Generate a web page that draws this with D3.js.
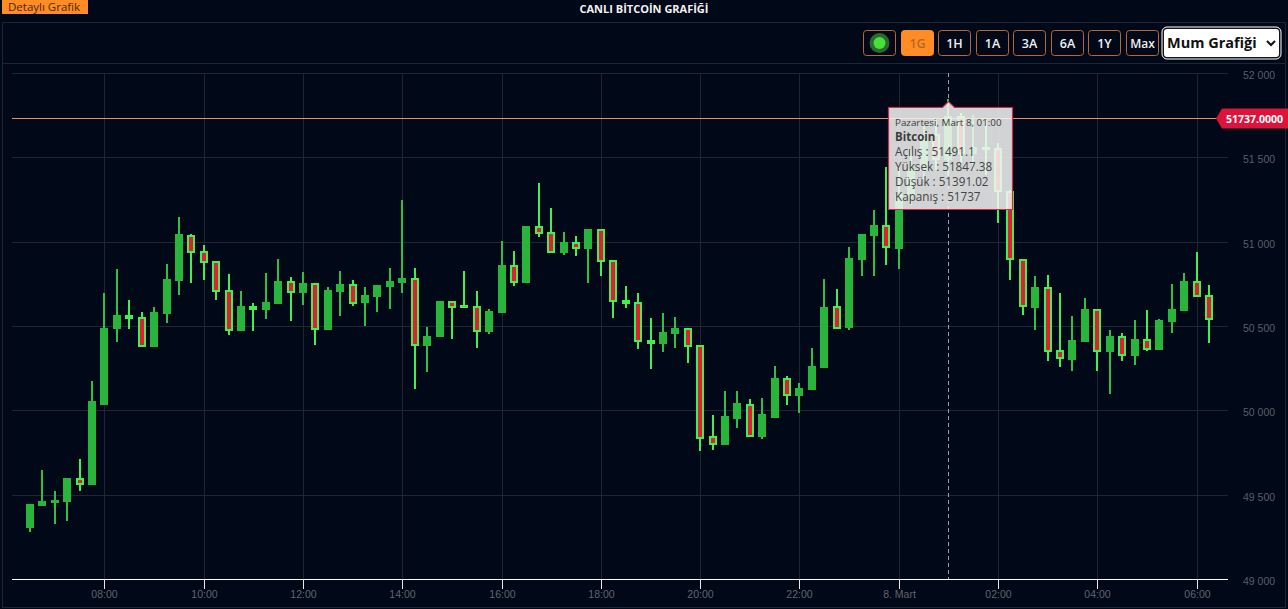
<!DOCTYPE html>
<html>
<head>
<meta charset="utf-8">
<script src="https://cdnjs.cloudflare.com/ajax/libs/d3/7.8.5/d3.min.js"></script>
<style>
  html, body { margin: 0; padding: 0; background: #010817; overflow: hidden; }
  svg { display: block; font-family: "Open Sans", "Noto Sans", sans-serif; }
</style>
</head>
<body>
<svg id="chart" width="1288" height="609"></svg>
<script>
// 15 minute candles, first one at 06:30
const opens = [49311,49441,49459,49465,49595,49566,50040,50490,50562,50550,50384,50579,50775,51036,50941,50882,50710,50479,50615,50603,50639,50763,50704,50751,50485,50710,50745,50645,50680,50740,50763,50781,50390,50443,50645,50621,50615,50473,50585,50858,50763,51089,51054,50941,50994,50965,51071,50888,50651,50639,50413,50402,50461,50485,50384,49844,49803,49957,50034,49850,49963,50188,50088,50129,50259,50615,50496,50900,51042,51095,50965,51279,51427,51635,51491.1,51737,51528,51558,51552,51297,50894,50615,50728,50354,50307,50413,50597,50354,50437,50330,50419,50366,50532,50597,50763,50680];
const highs = [49447,49649,49524,49595,49714,50176,50698,50840,50656,50585,50615,50870,51149,51048,50983,50888,50811,50710,50639,50817,50900,50793,50822,50757,50734,50828,50775,50734,50745,50846,51249,50846,50496,50651,50651,50828,50710,50603,51006,50947,51095,51350,51202,51060,51036,51077,51077,50894,50740,50698,50550,50579,50556,50490,50390,49975,50117,50117,50069,50075,50265,50206,50164,50372,50781,50722,50971,51048,51190,51445,51439,51546,51694,51724,51847.38,51760,51753,51724,51587,51309,50900,50799,50805,50698,50562,50668,50603,50479,50461,50538,50597,50544,50751,50817,50941,50745];
const lows = [49281,49435,49328,49346,49524,49566,50040,50408,50485,50378,50378,50520,50686,50757,50775,50656,50449,50473,50473,50544,50633,50532,50627,50390,50479,50562,50621,50502,50585,50603,50698,50129,50230,50437,50425,50609,50372,50455,50579,50740,50757,51030,50935,50923,50917,50757,50799,50550,50609,50366,50247,50348,50372,50283,49761,49767,49797,49898,49844,49832,49957,50034,49987,50123,50253,50485,50479,50799,50799,50864,50840,51220,51368,51427,51391.02,51457,51427,51398,51113,50775,50568,50479,50295,50259,50236,50408,50236,50099,50295,50271,50354,50360,50461,50591,50674,50402];
const closes = [49441,49459,49465,49595,49566,50052,50485,50562,50550,50384,50579,50775,51042,50941,50882,50710,50479,50615,50603,50639,50763,50704,50751,50485,50710,50745,50639,50680,50740,50763,50781,50390,50437,50645,50615,50615,50473,50585,50858,50763,51089,51054,50941,50994,50965,51071,50888,50651,50639,50413,50402,50461,50485,50384,49838,49803,49963,50040,49850,49975,50188,50093,50129,50259,50609,50490,50900,51042,51095,50971,51279,51427,51635,51491,51737,51528,51558,51552,51303,50900,50621,50728,50354,50313,50413,50597,50354,50437,50330,50419,50366,50532,50597,50763,50680,50544];

const priceTicks = [49000,49500,50000,50500,51000,51500,52000];
const priceTickLabels = ["49 000","49 500","50 000","50 500","51 000","51 500","52 000"];
const timeTicks = ["2021-03-07T08:00","2021-03-07T10:00","2021-03-07T12:00","2021-03-07T14:00","2021-03-07T16:00","2021-03-07T18:00","2021-03-07T20:00","2021-03-07T22:00","2021-03-08T00:00","2021-03-08T02:00","2021-03-08T04:00","2021-03-08T06:00"].map(d => new Date(d));
const timeTickLabels = ["08:00","10:00","12:00","14:00","16:00","18:00","20:00","22:00","8. Mart","02:00","04:00","06:00"];
const rangeButtons = ["1G","1H","1A","3A","6A","1Y","Max"];
const tooltipLines = ["Açılış : 51491.1","Yüksek : 51847.38","Düşük : 51391.02","Kapanış : 51737"];
const hoverTime = new Date("2021-03-08T01:00");
const lastPrice = 51737;

const times = d3.timeMinute.every(15).range(new Date("2021-03-07T06:30"), new Date("2021-03-08T06:30"));
const candles = opens.map((o, i) => ({t: times[i], o, h: highs[i], l: lows[i], c: closes[i]}));

const svg = d3.select("#chart");
const plotLeft = 12, plotRight = 1228, plotTop = 73, plotBottom = 579;

const x = d3.scaleTime().domain([times[0], times[times.length - 1]]).rangeRound([30, 1209]);
const y = d3.scaleLinear().domain([49000, 52000]).rangeRound([plotBottom, plotTop]);

// panel frame
svg.append("rect").attr("x", 2.5).attr("y", 22.5).attr("width", 1283).attr("height", 585)
  .attr("fill", "none").attr("stroke", "#1d2634");
svg.append("line").attr("x1", 2).attr("x2", 1286).attr("y1", 63.5).attr("y2", 63.5).attr("stroke", "#1d2634");

// header
svg.append("rect").attr("x", 2).attr("y", 0).attr("width", 86).attr("height", 14).attr("fill", "#ff8c24");
svg.append("text").attr("x", 8).attr("y", 10.5).attr("font-size", 11.5).attr("fill", "#4a2a10").text("Detaylı Grafik");
svg.append("text").attr("x", 644).attr("y", 12.5).attr("text-anchor", "middle").attr("font-size", 11)
  .attr("font-weight", 700).attr("fill", "#f2f2f2").text("CANLI BİTCOİN GRAFİĞİ");

// toolbar
const btnX = [901, 938, 976, 1013, 1051, 1088, 1126];
const tool = svg.append("g");
tool.append("rect").attr("x", 863.5).attr("y", 30.5).attr("width", 32).attr("height", 25).attr("rx", 3)
  .attr("fill", "none").attr("stroke", "#b5693a");
tool.append("circle").attr("cx", 879.5).attr("cy", 43).attr("r", 10).attr("fill", "#2b6a2b");
tool.append("circle").attr("cx", 879.5).attr("cy", 43).attr("r", 6).attr("fill", "#45e038");
rangeButtons.forEach((b, i) => {
  const on = i === 0;
  tool.append("rect").attr("x", btnX[i] + .5).attr("y", 30.5).attr("width", 32).attr("height", 25).attr("rx", 3)
    .attr("fill", on ? "#ff8c24" : "none").attr("stroke", on ? "#ff8c24" : "#b5693a");
  tool.append("text").attr("x", btnX[i] + 16.5).attr("y", 48).attr("text-anchor", "middle")
    .attr("font-size", b === "Max" ? 12 : 12.5)
    .attr("font-weight", 600).attr("fill", on ? "#b06a20" : "#eef0f2").text(b);
});
tool.append("rect").attr("x", 1163).attr("y", 28).attr("width", 117).attr("height", 30).attr("rx", 4)
  .attr("fill", "#fff").attr("stroke", "#10151d").attr("stroke-width", 2);
tool.append("rect").attr("x", 1162).attr("y", 27).attr("width", 119).attr("height", 32).attr("rx", 5)
  .attr("fill", "none").attr("stroke", "#fff");
tool.append("text").attr("x", 1167).attr("y", 48).attr("font-size", 14.5).attr("font-weight", 700).attr("fill", "#111").text("Mum Grafiği");
tool.append("path").attr("d", "M1267 41l4 4 4-4").attr("fill", "none").attr("stroke", "#111").attr("stroke-width", 2);

// grid
const yAxis = d3.axisRight(y).tickValues(priceTicks)
  .tickFormat((d, i) => priceTickLabels[i]).tickSize(-(plotRight - plotLeft)).tickPadding(15);
svg.append("g").attr("transform", `translate(${plotRight},0)`).call(yAxis)
  .call(g => g.select(".domain").remove())
  .call(g => g.selectAll("line").attr("stroke", "#20262f"))
  .call(g => g.selectAll("text").attr("fill", "#585f68").attr("font-size", 10.5).attr("dy", "0.55em").attr("font-family", "inherit"));

const xGrid = d3.axisBottom(x).tickValues(timeTicks).tickFormat("").tickSize(-(plotBottom - plotTop));
svg.append("g").attr("transform", `translate(0,${plotBottom})`).call(xGrid)
  .call(g => g.select(".domain").remove())
  .call(g => g.selectAll("line").attr("stroke", "#20262f"));

const xAxis = d3.axisBottom(x).tickValues(timeTicks).tickFormat((d, i) => timeTickLabels[i]).tickSize(10).tickPadding(2);

// candles
const cg = svg.append("g").selectAll("g").data(candles).join("g")
  .attr("transform", d => `translate(${x(d.t)},0)`);
const isUp = d => d.c >= d.o;
cg.append("line").attr("y1", d => y(d.h)).attr("y2", d => y(d.l))
  .attr("stroke", d => isUp(d) ? "#33bf47" : "#42ee52").attr("stroke-width", 2);
cg.append("rect").attr("x", -3).attr("width", 6)
  .attr("y", d => y(Math.max(d.o, d.c)))
  .attr("height", d => Math.max(y(Math.min(d.o, d.c)) - y(Math.max(d.o, d.c)), 1))
  .attr("fill", d => isUp(d) ? "#29b53c" : "#dd2034")
  .attr("stroke", d => isUp(d) ? "#29b53c" : "#42ee52").attr("stroke-width", 2);

// bottom axis above candles
svg.append("g").attr("transform", `translate(0,${plotBottom})`).call(xAxis)
  .call(g => g.select(".domain").attr("stroke", "#fff").attr("d", `M${plotLeft},0.5H${plotRight}`))
  .call(g => g.selectAll("line").attr("stroke", "#e8e8e8"))
  .call(g => g.selectAll("text").attr("fill", "#5f666f").attr("font-size", 10.5).attr("font-family", "inherit"));

// last price marker
const py = y(lastPrice) + 1.5;
svg.append("line").attr("x1", plotLeft).attr("x2", 1217).attr("y1", py).attr("y2", py).attr("stroke", "#ea8f62");
svg.append("path").attr("fill", "#dc143c")
  .attr("d", `M1216 ${py}L1222 ${py - 10}H1288V${py + 10}H1222Z`);
svg.append("text").attr("x", 1226).attr("y", py + 4).attr("font-size", 10.5).attr("font-weight", 700)
  .attr("fill", "#fff").text(lastPrice.toFixed(4));

// crosshair + tooltip
const hx = x(hoverTime) + .5;
svg.append("line").attr("x1", hx).attr("x2", hx).attr("y1", plotTop).attr("y2", plotBottom)
  .attr("stroke", "#9aa0a8").attr("stroke-dasharray", "4 3");
const tip = svg.append("g");
tip.append("path").attr("fill", "#f7f7f7").attr("fill-opacity", .85).attr("stroke", "#d42a4a").attr("stroke-width", 1.2)
  .attr("d", `M888.5 107.5H${hx - 6}L${hx} 101.5L${hx + 6} 107.5H1012.5V209.5H888.5Z`);
tip.append("text").attr("x", 895).attr("y", 125.5).attr("font-size", 9.8).attr("fill", "#3c3c3c").text("Pazartesi, Mart 8, 01:00");
tip.append("text").attr("x", 895).attr("y", 141).attr("font-size", 11.5).attr("font-weight", 700).attr("fill", "#3c3c3c").text("Bitcoin");
tooltipLines.forEach((t, i) => {
  tip.append("text").attr("x", 895).attr("y", 156 + i * 15).attr("font-size", 11.7).attr("fill", "#444").text(t);
});
</script>
</body>
</html>
